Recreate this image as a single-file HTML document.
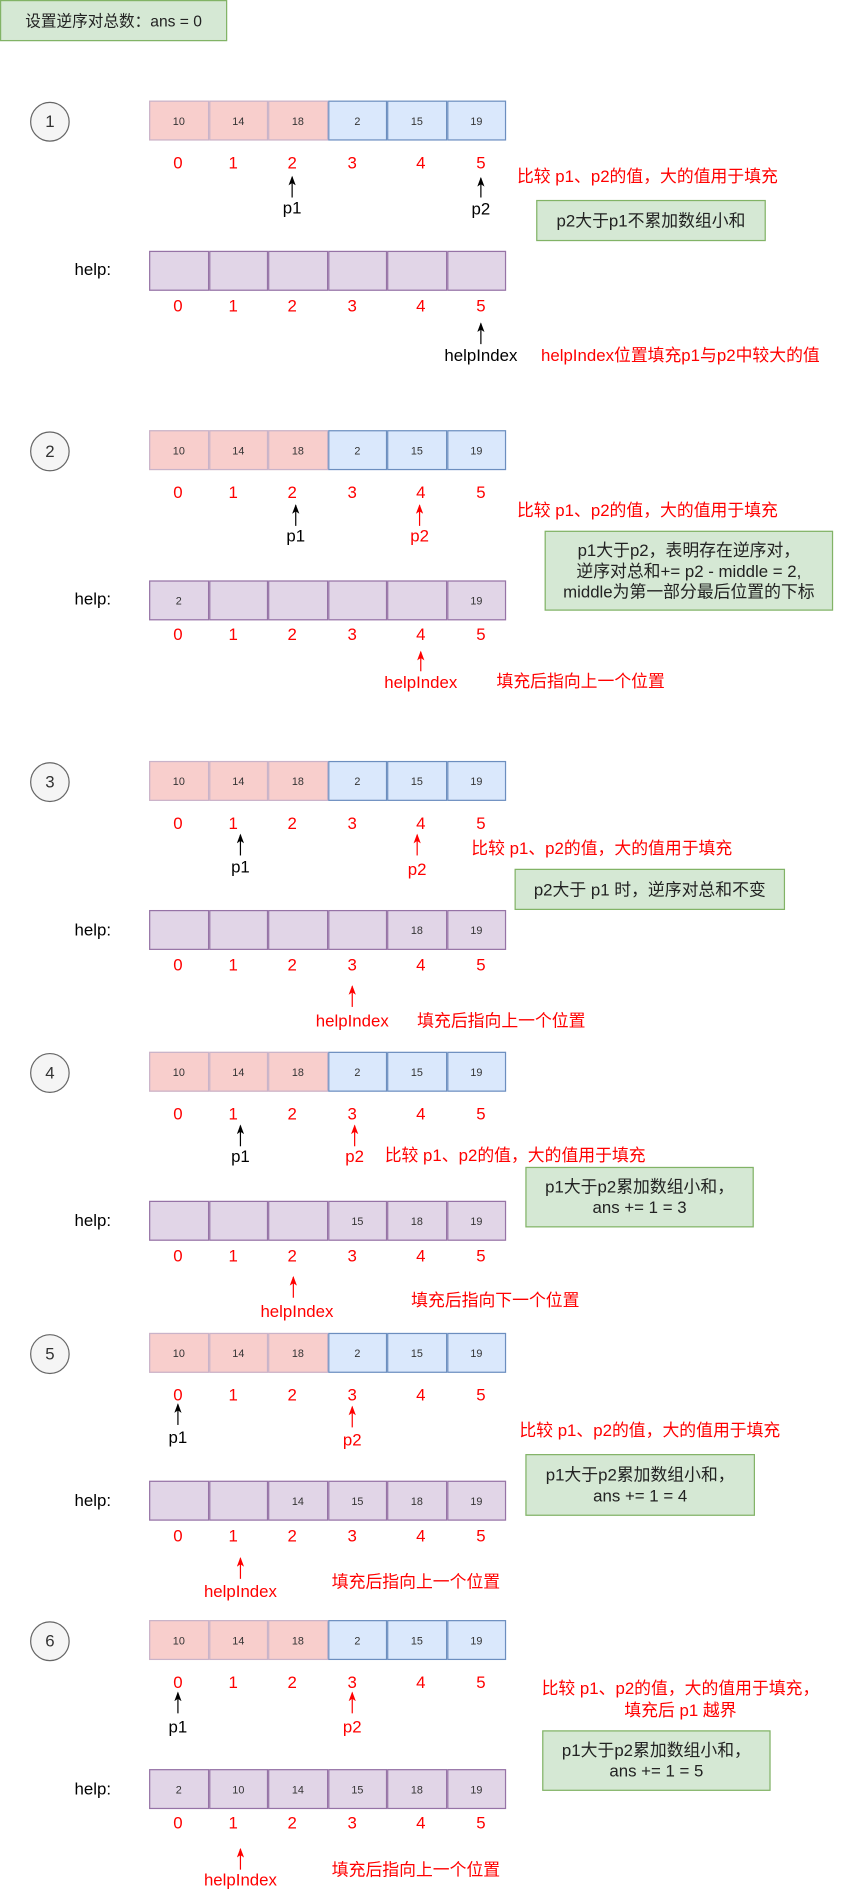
<!DOCTYPE html>
<html><head><meta charset="utf-8">
<style>
html,body{margin:0;padding:0;background:#fff;}
body{width:856px;height:1900px;overflow:hidden;position:relative;}
#c{position:absolute;left:0;top:0;width:712px;height:1568px;transform-origin:0 0;transform:scale(1.2022,1.2117);font-family:"Liberation Sans","Noto Sans CJK SC",sans-serif;}
.t{position:absolute;white-space:nowrap;transform:translate(-50%,-50%);font-size:14px;line-height:1;}
.l{position:absolute;white-space:nowrap;transform:translateY(-50%);font-size:14px;line-height:1;}
.r{color:#ff0000;}
.k{color:#000;}
.circ{position:absolute;width:31px;height:31px;border:1px solid #666;border-radius:50%;background:#f5f5f5;font-size:14px;text-align:center;line-height:31px;color:#333;}
.arr{position:absolute;left:124px;height:33px;display:flex;}
.arr div{width:49.5px;height:33px;box-sizing:border-box;font-size:9px;display:flex;align-items:center;justify-content:center;color:#333;}
.p{background:#f8cecc;border:1px solid #c9b3c9;}
.b{background:#dae8fc;border:1px solid #6c8ebf;}
.h{background:#e1d5e7;border:1px solid #9673a6;}
.g{position:absolute;background:#d5e8d4;border:1px solid #82b366;box-sizing:border-box;display:flex;align-items:center;justify-content:center;text-align:center;font-size:14px;line-height:17px;color:#222;}
</style></head><body>
<div id="c">
<div class="g" style="left:0;top:0;width:189px;height:34px;font-size:13px;">设置逆序对总数：ans = 0</div>

<svg width="712" height="1568" style="position:absolute;left:0;top:0">
<defs>
<marker id="mk" markerWidth="6" markerHeight="8" refX="3" refY="1" orient="0" markerUnits="userSpaceOnUse"><path d="M0,8 L3,0 L6,8 L3,6 Z" fill="#000"/></marker>
<marker id="mr" markerWidth="6" markerHeight="8" refX="3" refY="1" orient="0" markerUnits="userSpaceOnUse"><path d="M0,8 L3,0 L6,8 L3,6 Z" fill="#f00"/></marker>
</defs>
<g stroke-width="1">
<line x1="243" y1="163" x2="243" y2="146" stroke="#000" marker-end="url(#mk)"/>
<line x1="400" y1="163" x2="400" y2="147" stroke="#000" marker-end="url(#mk)"/>
<line x1="400" y1="284" x2="400" y2="267" stroke="#000" marker-end="url(#mk)"/>

<line x1="246" y1="434" x2="246" y2="417" stroke="#000" marker-end="url(#mk)"/>
<line x1="349" y1="434" x2="349" y2="417" stroke="#f00" marker-end="url(#mr)"/>
<line x1="350" y1="554" x2="350" y2="538" stroke="#f00" marker-end="url(#mr)"/>

<line x1="200" y1="706" x2="200" y2="689" stroke="#000" marker-end="url(#mk)"/>
<line x1="347" y1="706" x2="347" y2="689" stroke="#f00" marker-end="url(#mr)"/>
<line x1="293" y1="831" x2="293" y2="814" stroke="#f00" marker-end="url(#mr)"/>

<line x1="200" y1="946" x2="200" y2="929" stroke="#000" marker-end="url(#mk)"/>
<line x1="295" y1="946" x2="295" y2="929" stroke="#f00" marker-end="url(#mr)"/>
<line x1="244" y1="1071" x2="244" y2="1054" stroke="#f00" marker-end="url(#mr)"/>

<line x1="148" y1="1176" x2="148" y2="1159" stroke="#000" marker-end="url(#mk)"/>
<line x1="293" y1="1178" x2="293" y2="1161" stroke="#f00" marker-end="url(#mr)"/>
<line x1="200" y1="1303" x2="200" y2="1286" stroke="#f00" marker-end="url(#mr)"/>

<line x1="148" y1="1414" x2="148" y2="1397" stroke="#000" marker-end="url(#mk)"/>
<line x1="293" y1="1414" x2="293" y2="1397" stroke="#f00" marker-end="url(#mr)"/>
<line x1="200" y1="1543" x2="200" y2="1526" stroke="#f00" marker-end="url(#mr)"/>
</g>
</svg>

<!-- Section 1 -->
<div class="circ" style="left:25px;top:84px">1</div>
<div class="arr" style="top:83px"><div class="p">10</div><div class="p">14</div><div class="p">18</div><div class="b">2</div><div class="b">15</div><div class="b">19</div></div>
<div class="t r" style="left:148px;top:134px">0</div><div class="t r" style="left:194px;top:134px">1</div><div class="t r" style="left:243px;top:134px">2</div><div class="t r" style="left:293px;top:134px">3</div><div class="t r" style="left:350px;top:134px">4</div><div class="t r" style="left:400px;top:134px">5</div>
<div class="t k" style="left:243px;top:171px">p1</div>
<div class="t k" style="left:400px;top:172px">p2</div>
<div class="l r" style="left:430px;top:145px">比较 p1、p2的值，大的值用于填充</div>
<div class="g" style="left:446px;top:165px;width:191px;height:34px;">p2大于p1不累加数组小和</div>
<div class="l k" style="left:62px;top:222px">help:</div>
<div class="arr" style="top:207px"><div class="h"></div><div class="h"></div><div class="h"></div><div class="h"></div><div class="h"></div><div class="h"></div></div>
<div class="t r" style="left:148px;top:252px">0</div><div class="t r" style="left:194px;top:252px">1</div><div class="t r" style="left:243px;top:252px">2</div><div class="t r" style="left:293px;top:252px">3</div><div class="t r" style="left:350px;top:252px">4</div><div class="t r" style="left:400px;top:252px">5</div>
<div class="t k" style="left:400px;top:293px">helpIndex</div>
<div class="l r" style="left:450px;top:293px">helpIndex位置填充p1与p2中较大的值</div>

<!-- Section 2 -->
<div class="circ" style="left:25px;top:356px">2</div>
<div class="arr" style="top:355px"><div class="p">10</div><div class="p">14</div><div class="p">18</div><div class="b">2</div><div class="b">15</div><div class="b">19</div></div>
<div class="t r" style="left:148px;top:406px">0</div><div class="t r" style="left:194px;top:406px">1</div><div class="t r" style="left:243px;top:406px">2</div><div class="t r" style="left:293px;top:406px">3</div><div class="t r" style="left:350px;top:406px">4</div><div class="t r" style="left:400px;top:406px">5</div>
<div class="t k" style="left:246px;top:442px">p1</div>
<div class="t r" style="left:349px;top:442px">p2</div>
<div class="l r" style="left:430px;top:421px">比较 p1、p2的值，大的值用于填充</div>
<div class="g" style="left:453px;top:438px;width:240px;height:66px;">p1大于p2，表明存在逆序对，<br>逆序对总和+= p2 - middle = 2,<br>middle为第一部分最后位置的下标</div>
<div class="l k" style="left:62px;top:494px">help:</div>
<div class="arr" style="top:479px"><div class="h">2</div><div class="h"></div><div class="h"></div><div class="h"></div><div class="h"></div><div class="h">19</div></div>
<div class="t r" style="left:148px;top:523px">0</div><div class="t r" style="left:194px;top:523px">1</div><div class="t r" style="left:243px;top:523px">2</div><div class="t r" style="left:293px;top:523px">3</div><div class="t r" style="left:350px;top:523px">4</div><div class="t r" style="left:400px;top:523px">5</div>
<div class="t r" style="left:350px;top:563px">helpIndex</div>
<div class="l r" style="left:413px;top:562px">填充后指向上一个位置</div>

<!-- Section 3 -->
<div class="circ" style="left:25px;top:629px">3</div>
<div class="arr" style="top:628px"><div class="p">10</div><div class="p">14</div><div class="p">18</div><div class="b">2</div><div class="b">15</div><div class="b">19</div></div>
<div class="t r" style="left:148px;top:679px">0</div><div class="t r" style="left:194px;top:679px">1</div><div class="t r" style="left:243px;top:679px">2</div><div class="t r" style="left:293px;top:679px">3</div><div class="t r" style="left:350px;top:679px">4</div><div class="t r" style="left:400px;top:679px">5</div>
<div class="t k" style="left:200px;top:715px">p1</div>
<div class="t r" style="left:347px;top:717px">p2</div>
<div class="l r" style="left:392px;top:700px">比较 p1、p2的值，大的值用于填充</div>
<div class="g" style="left:428px;top:717px;width:225px;height:34px;">p2大于 p1 时，逆序对总和不变</div>
<div class="l k" style="left:62px;top:767px">help:</div>
<div class="arr" style="top:751px"><div class="h"></div><div class="h"></div><div class="h"></div><div class="h"></div><div class="h">18</div><div class="h">19</div></div>
<div class="t r" style="left:148px;top:796px">0</div><div class="t r" style="left:194px;top:796px">1</div><div class="t r" style="left:243px;top:796px">2</div><div class="t r" style="left:293px;top:796px">3</div><div class="t r" style="left:350px;top:796px">4</div><div class="t r" style="left:400px;top:796px">5</div>
<div class="t r" style="left:293px;top:842px">helpIndex</div>
<div class="l r" style="left:347px;top:842px">填充后指向上一个位置</div>

<!-- Section 4 -->
<div class="circ" style="left:25px;top:869px">4</div>
<div class="arr" style="top:868px"><div class="p">10</div><div class="p">14</div><div class="p">18</div><div class="b">2</div><div class="b">15</div><div class="b">19</div></div>
<div class="t r" style="left:148px;top:919px">0</div><div class="t r" style="left:194px;top:919px">1</div><div class="t r" style="left:243px;top:919px">2</div><div class="t r" style="left:293px;top:919px">3</div><div class="t r" style="left:350px;top:919px">4</div><div class="t r" style="left:400px;top:919px">5</div>
<div class="t k" style="left:200px;top:954px">p1</div>
<div class="t r" style="left:295px;top:954px">p2</div>
<div class="l r" style="left:320px;top:953px">比较 p1、p2的值，大的值用于填充</div>
<div class="g" style="left:437px;top:963px;width:190px;height:50px;">p1大于p2累加数组小和，<br>ans += 1 = 3</div>
<div class="l k" style="left:62px;top:1007px">help:</div>
<div class="arr" style="top:991px"><div class="h"></div><div class="h"></div><div class="h"></div><div class="h">15</div><div class="h">18</div><div class="h">19</div></div>
<div class="t r" style="left:148px;top:1036px">0</div><div class="t r" style="left:194px;top:1036px">1</div><div class="t r" style="left:243px;top:1036px">2</div><div class="t r" style="left:293px;top:1036px">3</div><div class="t r" style="left:350px;top:1036px">4</div><div class="t r" style="left:400px;top:1036px">5</div>
<div class="t r" style="left:247px;top:1082px">helpIndex</div>
<div class="l r" style="left:342px;top:1073px">填充后指向下一个位置</div>

<!-- Section 5 -->
<div class="circ" style="left:25px;top:1101px">5</div>
<div class="arr" style="top:1100px"><div class="p">10</div><div class="p">14</div><div class="p">18</div><div class="b">2</div><div class="b">15</div><div class="b">19</div></div>
<div class="t r" style="left:148px;top:1151px">0</div><div class="t r" style="left:194px;top:1151px">1</div><div class="t r" style="left:243px;top:1151px">2</div><div class="t r" style="left:293px;top:1151px">3</div><div class="t r" style="left:350px;top:1151px">4</div><div class="t r" style="left:400px;top:1151px">5</div>
<div class="t k" style="left:148px;top:1186px">p1</div>
<div class="t r" style="left:293px;top:1188px">p2</div>
<div class="l r" style="left:432px;top:1180px">比较 p1、p2的值，大的值用于填充</div>
<div class="g" style="left:437px;top:1200px;width:191px;height:51px;">p1大于p2累加数组小和，<br>ans += 1 = 4</div>
<div class="l k" style="left:62px;top:1238px">help:</div>
<div class="arr" style="top:1222px"><div class="h"></div><div class="h"></div><div class="h">14</div><div class="h">15</div><div class="h">18</div><div class="h">19</div></div>
<div class="t r" style="left:148px;top:1267px">0</div><div class="t r" style="left:194px;top:1267px">1</div><div class="t r" style="left:243px;top:1267px">2</div><div class="t r" style="left:293px;top:1267px">3</div><div class="t r" style="left:350px;top:1267px">4</div><div class="t r" style="left:400px;top:1267px">5</div>
<div class="t r" style="left:200px;top:1313px">helpIndex</div>
<div class="l r" style="left:276px;top:1305px">填充后指向上一个位置</div>

<!-- Section 6 -->
<div class="circ" style="left:25px;top:1338px">6</div>
<div class="arr" style="top:1337px"><div class="p">10</div><div class="p">14</div><div class="p">18</div><div class="b">2</div><div class="b">15</div><div class="b">19</div></div>
<div class="t r" style="left:148px;top:1388px">0</div><div class="t r" style="left:194px;top:1388px">1</div><div class="t r" style="left:243px;top:1388px">2</div><div class="t r" style="left:293px;top:1388px">3</div><div class="t r" style="left:350px;top:1388px">4</div><div class="t r" style="left:400px;top:1388px">5</div>
<div class="t k" style="left:148px;top:1425px">p1</div>
<div class="t r" style="left:293px;top:1425px">p2</div>
<div class="t r" style="left:566px;top:1393px">比较 p1、p2的值，大的值用于填充，</div>
<div class="t r" style="left:566px;top:1411px">填充后 p1 越界</div>
<div class="g" style="left:451px;top:1428px;width:190px;height:50px;">p1大于p2累加数组小和，<br>ans += 1 = 5</div>
<div class="l k" style="left:62px;top:1476px">help:</div>
<div class="arr" style="top:1460px"><div class="h">2</div><div class="h">10</div><div class="h">14</div><div class="h">15</div><div class="h">18</div><div class="h">19</div></div>
<div class="t r" style="left:148px;top:1504px">0</div><div class="t r" style="left:194px;top:1504px">1</div><div class="t r" style="left:243px;top:1504px">2</div><div class="t r" style="left:293px;top:1504px">3</div><div class="t r" style="left:350px;top:1504px">4</div><div class="t r" style="left:400px;top:1504px">5</div>
<div class="t r" style="left:200px;top:1551px">helpIndex</div>
<div class="l r" style="left:276px;top:1543px">填充后指向上一个位置</div>
</div>
</body></html>
